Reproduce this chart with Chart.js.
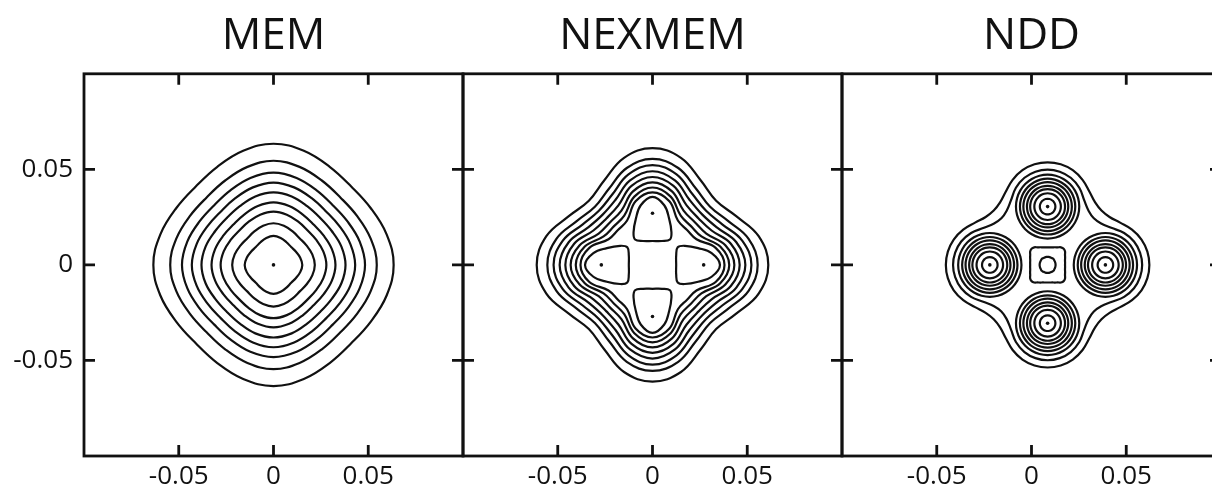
<!DOCTYPE html>
<html>
<head>
<meta charset="utf-8">
<title>MEM / NEXMEM / NDD</title>
<script src="https://cdn.jsdelivr.net/npm/chart.js@4.4.1/dist/chart.umd.min.js"></script>
<style>
	html, body { margin: 0; padding: 0; background: #fff; width: 1212px; height: 491px; overflow: hidden; }
	canvas { position: absolute; top: 0; }
</style>
</head>
<body>
<script>
const panelTitles = ["MEM", "NEXMEM", "NDD"]
const axisRange = [-0.1, 0.1]
const tickValues = [-0.05, 0, 0.05]
const tickLabels = ["-0.05", "0", "0.05"]

// contour radii read at these angles (degrees from the x axis);
// each contour is symmetric about both axes and both diagonals
const coarseAngles = [0, 15, 30, 45]
const fineAngles = [0, 7.5, 15, 22.5, 30, 37.5, 45]

// MEM
const memCentre = [0, 0]
const memRadii = [
	[0.0634, 0.0618, 0.0593, 0.0580],
	[0.0545, 0.0531, 0.0510, 0.0499],
	[0.0483, 0.0471, 0.0452, 0.0442],
	[0.0431, 0.0420, 0.0403, 0.0394],
	[0.0380, 0.0371, 0.0355, 0.0348],
	[0.0327, 0.0319, 0.0306, 0.0299],
	[0.0279, 0.0272, 0.0261, 0.0255],
	[0.0218, 0.0212, 0.0202, 0.0196],
	[0.0152, 0.0146, 0.0137, 0.0132]
]
const memPeaks = [[0, 0]]

// NEXMEM
const nexCentre = [0, 0]
const nexRadii = [
	[0.0611, 0.0580, 0.0510, 0.0475],
	[0.0555, 0.0525, 0.0460, 0.0430],
	[0.0522, 0.0490, 0.0425, 0.0400],
	[0.0490, 0.0458, 0.0392, 0.0372],
	[0.0460, 0.0428, 0.0360, 0.0344],
	[0.0432, 0.0398, 0.0328, 0.0316],
	[0.0405, 0.0370, 0.0298, 0.0287],
	[0.0380, 0.0345, 0.0268, 0.0258]
]
// upper inner contour; the other three are the same shape turned by 90 degrees
const nexLobeOutline = [
	[0, 0.0356], [-0.0062, 0.0312], [-0.0088, 0.0241], [-0.0100, 0.0171],
	[-0.0092, 0.0133], [-0.0050, 0.0125], [0, 0.0125], [0.0050, 0.0125],
	[0.0092, 0.0133], [0.0100, 0.0171], [0.0088, 0.0241], [0.0062, 0.0312]
]
const nexPeaks = [[0, 0.027], [-0.027, 0], [0.027, 0], [0, -0.027]]

// NDD
const nddCentre = [0.0085, 0]
const nddOuterRadii = [
	[0.0537, 0.0531, 0.0513, 0.0482, 0.0442, 0.0412, 0.0402],
	[0.0499, 0.0492, 0.0472, 0.0437, 0.0388, 0.0356, 0.0345]
]
const nddCoreRadii = [
	[0.0092, 0.0093, 0.0095, 0.0100, 0.0106, 0.0116, 0.0120],
	[0.0042, 0.0042, 0.0042, 0.0042, 0.0042, 0.0043, 0.0044]
]
const nddPeaks = [[0.0085, 0.0305], [-0.022, 0], [0.039, 0], [0.0085, -0.0305]]
const nddRingRadii = [0.0041, 0.0070, 0.0092, 0.0109, 0.0128, 0.0146, 0.0167]

const ink = "#111"
const frameLefts = [84, 463, 842]
const frameWidth = 379
const yAxisWidth = 84
const rightPad = 12
const tickLen = 11
const labelFont = { family: "'Open Sans', 'Noto Sans', sans-serif", size: 26 }

function octantCurve(centre, angles, radii) {
	const polar = []
	for (let q = 0; q < 4; q++) {
		for (let i = 0; i < angles.length - 1; i++) polar.push([q * 90 + angles[i], radii[i]])
		for (let i = angles.length - 1; i > 0; i--) polar.push([q * 90 + 90 - angles[i], radii[i]])
	}
	return polar.map(([deg, r]) => [
		centre[0] + r * Math.cos(deg * Math.PI / 180),
		centre[1] + r * Math.sin(deg * Math.PI / 180)
	])
}

function circle(centre, r) {
	return octantCurve(centre, coarseAngles, coarseAngles.map(() => r))
}

const turns = [p => p, ([x, y]) => [-y, x], ([x, y]) => [-x, -y], ([x, y]) => [y, -x]]

// a closed smooth line: wrap one point on each side, hide the two extra segments
function closedDataset(points) {
	const n = points.length
	const loop = [points[n - 1], ...points, points[0], points[1]]
	return {
		data: loop.map(([x, y]) => ({ x, y })),
		showLine: true,
		borderColor: ink,
		borderWidth: 2.2,
		pointRadius: 0,
		tension: 0.4,
		segment: {
			borderColor: ctx => (ctx.p0DataIndex === 0 || ctx.p0DataIndex === n + 1) ? "rgba(0,0,0,0)" : undefined
		}
	}
}

function peakDataset(peaks) {
	return {
		data: peaks.map(([x, y]) => ({ x, y })),
		showLine: false,
		pointRadius: 1.8,
		pointBorderWidth: 0,
		pointBackgroundColor: ink
	}
}

const panels = [
	{
		curves: memRadii.map(r => octantCurve(memCentre, coarseAngles, r)),
		peaks: memPeaks
	},
	{
		curves: [
			...nexRadii.map(r => octantCurve(nexCentre, coarseAngles, r)),
			...turns.map(t => nexLobeOutline.map(t))
		],
		peaks: nexPeaks
	},
	{
		curves: [
			...nddOuterRadii.map(r => octantCurve(nddCentre, fineAngles, r)),
			...nddCoreRadii.map(r => octantCurve(nddCentre, fineAngles, r)),
			...nddPeaks.flatMap(p => nddRingRadii.map(r => circle(p, r)))
		],
		peaks: nddPeaks
	}
]

const framePlugin = {
	id: "frame",
	afterDraw(chart) {
		const { ctx, chartArea: a, scales: { x, y } } = chart
		ctx.save()
		ctx.strokeStyle = ink
		ctx.lineWidth = 2.8
		ctx.strokeRect(a.left, a.top, a.right - a.left, a.bottom - a.top)
		ctx.beginPath()
		tickValues.forEach(v => {
			const px = x.getPixelForValue(v)
			const py = y.getPixelForValue(v)
			ctx.moveTo(px, a.bottom); ctx.lineTo(px, a.bottom - tickLen)
			ctx.moveTo(px, a.top); ctx.lineTo(px, a.top + tickLen)
			ctx.moveTo(a.left, py); ctx.lineTo(a.left + tickLen, py)
			ctx.moveTo(a.right, py); ctx.lineTo(a.right - tickLen, py)
		})
		ctx.stroke()
		ctx.restore()
	}
}

panels.forEach((panel, i) => {
	const canvas = document.createElement("canvas")
	canvas.width = yAxisWidth + frameWidth + rightPad
	canvas.height = 491
	canvas.style.left = (frameLefts[i] - yAxisWidth) + "px"
	document.body.appendChild(canvas)

	new Chart(canvas, {
		type: "scatter",
		data: {
			datasets: [...panel.curves.map(closedDataset), peakDataset(panel.peaks)]
		},
		options: {
			responsive: false,
			animation: false,
			events: [],
			layout: { padding: { left: 0, right: rightPad, top: 0, bottom: 0 } },
			plugins: {
				legend: { display: false },
				tooltip: { enabled: false },
				title: {
					display: true,
					text: panelTitles[i],
					fullSize: false,
					color: ink,
					font: { family: "'Open Sans', 'Noto Sans', sans-serif", size: 44, weight: "normal", lineHeight: 1.2 },
					padding: { top: 10, bottom: 11 }
				}
			},
			scales: {
				x: {
					type: "linear",
					min: axisRange[0],
					max: axisRange[1],
					grid: { display: false, drawTicks: false },
					border: { display: false },
					afterBuildTicks: s => { s.ticks = tickValues.map(value => ({ value })) },
					afterFit: s => { s.height = 35 },
					ticks: {
						color: ink,
						font: labelFont,
						padding: 5,
						maxRotation: 0,
						autoSkip: false,
						callback: (v, idx) => tickLabels[idx]
					}
				},
				y: {
					type: "linear",
					min: axisRange[0],
					max: axisRange[1],
					grid: { display: false, drawTicks: false },
					border: { display: false },
					afterBuildTicks: s => { s.ticks = tickValues.map(value => ({ value })) },
					afterFit: s => { s.width = yAxisWidth },
					ticks: {
						display: i === 0,
						color: ink,
						font: labelFont,
						padding: 11,
						autoSkip: false,
						callback: (v, idx) => tickLabels[idx]
					}
				}
			}
		},
		plugins: [framePlugin]
	})
})
</script>
</body>
</html>
